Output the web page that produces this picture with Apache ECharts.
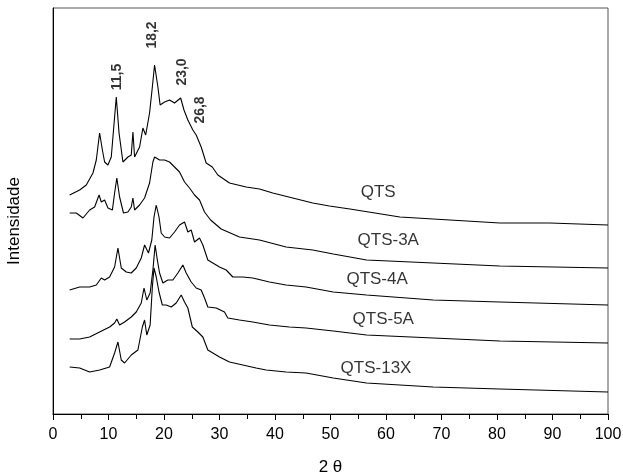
<!DOCTYPE html>
<html>
<head>
<meta charset="utf-8">
<script src="https://cdn.jsdelivr.net/npm/echarts@6/dist/echarts.min.js"></script>
<style>
  html, body { margin: 0; padding: 0; background: #fff; }
  #chart { width: 623px; height: 475px; }
</style>
</head>
<body>
<div id="chart"></div>
<script>
// 2 theta positions and intensity (arbitrary units, traces already offset)
const thetaQTS = [3.0, 4.8, 6.0, 7.2, 7.8, 8.4, 8.9, 9.3, 9.9, 10.5, 11.1, 11.4, 11.9, 12.6, 13.5, 14.1, 14.4, 14.7, 15.6, 16.2, 16.7, 17.4, 17.9, 18.3, 18.9, 19.3, 20.1, 21.0, 21.9, 23.0, 23.6, 24.3, 25.2, 25.8, 26.1, 26.7, 27.6, 28.7, 29.7, 31.8, 34.8, 37.2, 39.6, 43.2, 46.8, 49.8, 53.5, 62.5, 71.5, 80.5, 89.5, 100];
const intQTS = [219, 224, 229, 241, 254, 281, 264, 252, 249, 257, 297, 317, 281, 252, 257, 259, 282, 257, 267, 286, 279, 301, 327, 349, 327, 309, 312, 314, 311, 316, 304, 294, 284, 279, 281, 267, 251, 247, 239, 231, 227, 225, 221, 216, 211, 208, 205, 197, 194, 191, 191, 189];

const theta3A = [3.0, 4.2, 5.4, 6.6, 7.5, 8.3, 8.7, 9.3, 9.9, 10.7, 11.1, 11.5, 12.0, 12.7, 13.5, 14.1, 14.4, 14.7, 15.6, 16.5, 17.4, 18.0, 18.3, 19.2, 20.1, 21.0, 21.9, 22.8, 23.7, 24.6, 25.5, 26.4, 27.3, 28.4, 30.3, 33.6, 37.2, 42.0, 46.8, 50.5, 56.5, 68.5, 80.5, 100];
const int3A = [201, 201, 196, 204, 207, 219, 212, 214, 206, 204, 221, 236, 217, 201, 202, 207, 216, 204, 209, 216, 231, 252, 257, 254, 254, 252, 247, 242, 232, 226, 219, 214, 202, 194, 185, 177, 174, 167, 164, 160, 154, 151, 148, 146];

const theta4A = [3.0, 4.8, 6.6, 7.8, 8.7, 9.3, 10.2, 11.1, 11.7, 12.3, 13.2, 14.1, 15.0, 15.9, 16.5, 17.2, 17.8, 18.2, 18.6, 19.1, 19.5, 20.1, 21.0, 21.9, 22.8, 23.7, 24.3, 24.9, 25.5, 26.4, 27.0, 27.9, 28.8, 30.0, 31.2, 32.4, 34.2, 36.0, 39.0, 42.0, 45.6, 50.5, 56.5, 68.5, 80.5, 100];
const int4A = [124, 127, 127, 129, 136, 134, 137, 147, 166, 146, 142, 141, 146, 156, 169, 161, 174, 197, 209, 197, 181, 177, 176, 182, 189, 192, 182, 184, 172, 176, 169, 154, 151, 147, 144, 137, 137, 136, 132, 129, 127, 122, 119, 114, 112, 109];

const theta5A = [3.0, 4.8, 6.6, 8.4, 10.2, 11.1, 11.5, 12.0, 12.9, 14.1, 15.0, 15.9, 16.4, 16.9, 17.5, 18.0, 18.4, 18.8, 19.2, 19.8, 20.7, 21.6, 22.5, 23.4, 24.0, 24.9, 25.8, 26.7, 27.3, 27.9, 29.4, 30.9, 31.5, 33.6, 36.0, 39.0, 42.6, 45.6, 50.5, 56.5, 68.5, 80.5, 100];
const int5A = [75, 75, 77, 82, 87, 91, 95, 89, 92, 97, 102, 111, 126, 114, 121, 144, 169, 154, 141, 131, 134, 134, 141, 149, 141, 132, 126, 124, 116, 107, 106, 102, 96, 94, 92, 89, 87, 86, 83, 79, 76, 73, 71];

const theta13X = [3.0, 4.8, 6.6, 8.4, 10.2, 11.1, 11.7, 12.3, 12.9, 14.1, 15.3, 16.1, 16.5, 16.9, 17.5, 17.9, 18.2, 18.6, 19.1, 19.7, 20.4, 21.3, 22.2, 23.1, 23.7, 24.3, 25.1, 26.1, 27.0, 27.9, 28.8, 30.0, 31.8, 34.2, 36.6, 38.4, 42.0, 45.6, 50.5, 56.5, 68.5, 80.5, 100];
const int13X = [47, 46, 42, 44, 47, 61, 72, 54, 51, 59, 64, 87, 94, 79, 89, 127, 146, 137, 122, 109, 109, 107, 111, 119, 112, 106, 87, 82, 77, 64, 61, 57, 52, 49, 46, 44, 42, 41, 36, 31, 27, 25, 22];

// trace name labels
const traceNames = ["QTS", "QTS-3A", "QTS-4A", "QTS-5A", "QTS-13X"];
const traceNameX = [58.6, 60.4, 58.4, 59.5, 58.2];
const traceNameY = [222, 174, 135, 95, 46];

// peak labels on QTS
const peakText = ["11,5", "18,2", "23,0", "26,8"];
const peakX = [11.6, 17.8, 23.2, 26.6];
const peakY = [337, 379, 342, 304];

const xTicks = { min: 0, max: 100, interval: 10 };

function zip(xs, ys) {
  return xs.map((x, i) => [x, ys[i]]);
}

const traces = [
  zip(thetaQTS, intQTS),
  zip(theta3A, int3A),
  zip(theta4A, int4A),
  zip(theta5A, int5A),
  zip(theta13X, int13X),
];

const font = "'Liberation Sans', Arial, sans-serif";

const lineSeries = traces.map((data, i) => ({
  name: traceNames[i],
  type: "line",
  data,
  showSymbol: false,
  symbol: "none",
  lineStyle: { color: "#000", width: 1.1 },
  silent: true,
}));

const chart = echarts.init(document.getElementById("chart"));
chart.setOption({
  animation: false,
  backgroundColor: "#fff",
  grid: {
    left: 53, right: 15, top: 8, bottom: 61,
    outerBoundsMode: "none",
    containLabel: false,
    show: true, borderColor: "#555", borderWidth: 1, backgroundColor: "transparent",
  },
  xAxis: {
    type: "value",
    min: xTicks.min, max: xTicks.max, interval: xTicks.interval,
    name: "2 θ",
    nameLocation: "middle",
    nameGap: 45,
    nameTextStyle: { fontFamily: font, fontSize: 17, color: "#000" },
    axisLine: { show: true, lineStyle: { color: "#000", width: 1 } },
    axisTick: { show: true, length: 6, lineStyle: { color: "#000" } },
    minorTick: { show: true, splitNumber: 2, length: 5, lineStyle: { color: "#000" } },
    axisLabel: { fontFamily: font, fontSize: 16, color: "#000", margin: 13 },
    splitLine: { show: false },
  },
  yAxis: {
    type: "value",
    min: 0, max: 406,
    name: "Intensidade",
    nameLocation: "middle",
    nameGap: 30,
    nameTextStyle: { fontFamily: font, fontSize: 17, color: "#000", padding: [0, 20, 0, 0] },
    axisLine: { show: true, lineStyle: { color: "#000", width: 1 } },
    axisTick: { show: false },
    axisLabel: { show: false },
    splitLine: { show: false },
  },
  series: [
    ...lineSeries,
    {
      type: "scatter",
      silent: true,
      symbolSize: 1,
      itemStyle: { color: "transparent" },
      data: traceNames.map((n, i) => [traceNameX[i], traceNameY[i], n]),
      label: {
        show: true, position: "inside",
        formatter: (p) => p.data[2],
        fontFamily: font, fontSize: 17, color: "#000",
      },
    },
    {
      type: "scatter",
      silent: true,
      symbolSize: 1,
      itemStyle: { color: "transparent" },
      data: peakText.map((t, i) => [peakX[i], peakY[i], t]),
      label: {
        show: true, position: "inside", rotate: 90,
        formatter: (p) => p.data[2],
        fontFamily: font, fontSize: 14, fontWeight: "bold", color: "#000",
      },
    },
  ],
});
</script>
</body>
</html>
